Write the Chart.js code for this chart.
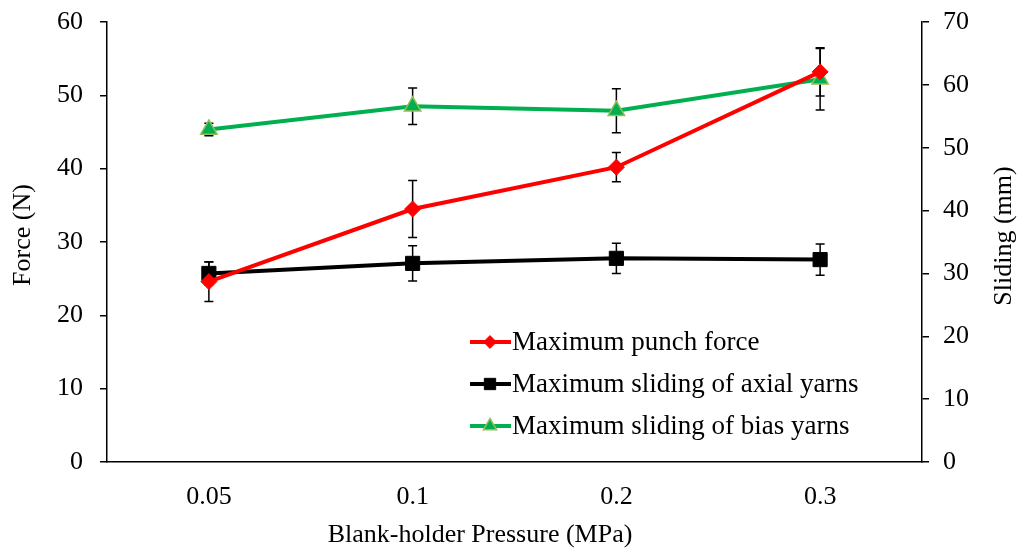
<!DOCTYPE html>
<html lang="en">
<head>
  <meta charset="UTF-8" />
  <title>Force and sliding vs blank-holder pressure</title>
  <script src="https://cdn.jsdelivr.net/npm/chart.js"></script>
  <style>
    html, body { margin: 0; padding: 0; background: #fff; }
    #wrap { width: 1018px; height: 549px; }
  </style>
</head>
<body>
  <div id="wrap"><canvas id="chart" width="1018" height="549"></canvas></div>

  <script>
    // data
    const pressures = ['0.05', '0.1', '0.2', '0.3'];
    const punchForce = [24.6, 34.5, 40.2, 53.2];
    const punchErr = [2.7, 3.9, 2.0, 3.3];
    const axialSliding = [30.0, 31.6, 32.4, 32.2];
    const axialErr = [1.8, 2.8, 2.4, 2.5];
    const biasSliding = [52.9, 56.6, 55.9, 60.9];
    const biasErr = [1.0, 2.9, 3.5, 4.9];

    const forceTicks = [0, 10, 20, 30, 40, 50, 60];
    const slidingTicks = [0, 10, 20, 30, 40, 50, 60, 70];

    const FONT = 'Liberation Serif, Times New Roman, serif';
    const FS = 26;

    // error bars go under the lines/markers
    const errorBars = {
      id: 'errorBars',
      beforeDatasetsDraw(chart) {
        const ctx = chart.ctx;
        ctx.save();
        ctx.strokeStyle = '#000';
        ctx.lineWidth = 1.5;
        chart.data.datasets.forEach((ds, i) => {
          const meta = chart.getDatasetMeta(i);
          const yScale = chart.scales[ds.yAxisID];
          ds.data.forEach((v, j) => {
            const x = meta.data[j].x;
            const top = yScale.getPixelForValue(v + ds.err[j]);
            const bot = yScale.getPixelForValue(v - ds.err[j]);
            ctx.beginPath();
            ctx.moveTo(x, top); ctx.lineTo(x, bot);
            ctx.moveTo(x - 4.5, top); ctx.lineTo(x + 4.5, top);
            ctx.moveTo(x - 4.5, bot); ctx.lineTo(x + 4.5, bot);
            ctx.stroke();
          });
        });
        ctx.restore();
      }
    };

    // legend inside the plot and the three axis titles
    const extras = {
      id: 'extras',
      afterDraw(chart) {
        const ctx = chart.ctx;
        ctx.save();
        ctx.font = '27px ' + FONT;
        ctx.textBaseline = 'middle';
        const rows = [342, 384, 426];
        chart.data.datasets.forEach((ds, i) => {
          const y = rows[i];
          ctx.strokeStyle = ds.borderColor;
          ctx.lineWidth = 4;
          ctx.beginPath();
          ctx.moveTo(470, y); ctx.lineTo(511, y);
          ctx.stroke();
          ctx.fillStyle = ds.pointBackgroundColor;
          ctx.strokeStyle = ds.pointBorderColor;
          ctx.lineWidth = ds.pointBorderWidth;
          Chart.helpers.drawPoint(ctx, {
            pointStyle: ds.pointStyle,
            radius: ds.pointRadius * 0.8,
            borderWidth: ds.pointBorderWidth,
            rotation: 0
          }, 490, y);
          ctx.fillStyle = '#000';
          ctx.fillText(ds.label, 512, y + 1);
        });

        ctx.font = FS + 'px ' + FONT;
        ctx.textAlign = 'center';
        ctx.fillText('Blank-holder Pressure (MPa)', 480, 535);

        ctx.save();
        ctx.translate(23, 235);
        ctx.rotate(-Math.PI / 2);
        ctx.fillText('Force (N)', 0, 0);
        ctx.restore();

        ctx.translate(1004, 236);
        ctx.rotate(-Math.PI / 2);
        ctx.fillText('Sliding (mm)', 0, 0);
        ctx.restore();
      }
    };

    new Chart(document.getElementById('chart'), {
      type: 'line',
      data: {
        labels: pressures,
        datasets: [
          {
            label: 'Maximum punch force',
            data: punchForce, err: punchErr, yAxisID: 'y',
            borderColor: '#ff0000', backgroundColor: '#ff0000',
            borderWidth: 4, pointStyle: 'rectRot', pointRadius: 8,
            pointBackgroundColor: '#ff0000', pointBorderColor: '#ff0000', pointBorderWidth: 1
          },
          {
            label: 'Maximum sliding of axial yarns',
            data: axialSliding, err: axialErr, yAxisID: 'y1',
            borderColor: '#000000', backgroundColor: '#000000',
            borderWidth: 4, pointStyle: 'rect', pointRadius: 10,
            pointBackgroundColor: '#000000', pointBorderColor: '#000000', pointBorderWidth: 1
          },
          {
            label: 'Maximum sliding of bias yarns',
            data: biasSliding, err: biasErr, yAxisID: 'y1',
            borderColor: '#00b050', backgroundColor: '#00b050',
            borderWidth: 4, pointStyle: 'triangle', pointRadius: 9.5,
            pointBackgroundColor: '#00b050', pointBorderColor: '#9bbb59', pointBorderWidth: 1.5
          }
        ]
      },
      options: {
        responsive: false,
        animation: false,
        layout: { padding: { top: 22, left: 0, right: 0, bottom: 0 } },
        plugins: { legend: { display: false }, tooltip: { enabled: false } },
        scales: {
          x: {
            type: 'category',
            offset: true,
            grid: { display: false, drawTicks: false },
            border: { display: true, color: '#000', width: 1.5 },
            ticks: { color: '#000', font: { family: FONT, size: FS }, padding: 20 },
            afterFit(s) { s.height = 87; s.paddingLeft = 0; s.paddingRight = 0; }
          },
          y: {
            position: 'left', min: 0, max: 60,
            afterBuildTicks(s) { s.ticks = forceTicks.map(v => ({ value: v })); },
            grid: { drawOnChartArea: false, drawTicks: true, tickLength: 7, color: '#000', lineWidth: 1.5 },
            border: { color: '#000', width: 1.5 },
            ticks: { color: '#000', font: { family: FONT, size: FS }, padding: 17 },
            afterFit(s) { s.width = 107; s.paddingTop = 0; s.paddingBottom = 0; }
          },
          y1: {
            position: 'right', min: 0, max: 70,
            afterBuildTicks(s) { s.ticks = slidingTicks.map(v => ({ value: v })); },
            grid: { drawOnChartArea: false, drawTicks: true, tickLength: 7, color: '#000', lineWidth: 1.5 },
            border: { color: '#000', width: 1.5 },
            ticks: { color: '#000', font: { family: FONT, size: FS }, padding: 14 },
            afterFit(s) { s.width = 96; s.paddingTop = 0; s.paddingBottom = 0; }
          }
        }
      },
      plugins: [errorBars, extras]
    });
  </script>
</body>
</html>
